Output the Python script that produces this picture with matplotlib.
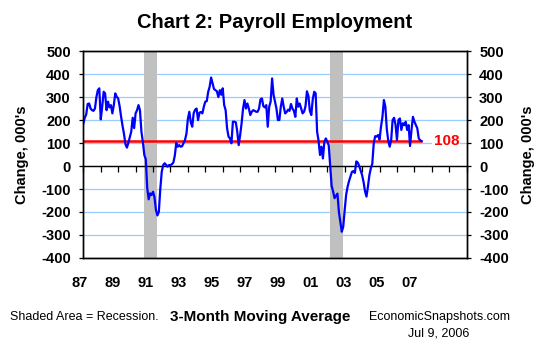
import numpy as np
import matplotlib.pyplot as plt

plt.rcParams['font.family'] = ['Liberation Sans', 'DejaVu Sans']

# Payroll employment, monthly change, 3-month moving average (000's), Jan 1987 - Jun 2006
p1987 = [185, 210, 225, 270, 272, 250, 243, 240, 250, 300, 330, 338]
p1988 = [203, 258, 323, 316, 243, 280, 255, 265, 229, 265, 316, 301]
p1989 = [294, 260, 215, 175, 140, 95, 80, 100, 125, 150, 210, 165]
p1990 = [229, 243, 265, 243, 150, 105, 48, 30, -95, -145, -119, -126]
p1991 = [-112, -135, -191, -215, -200, -100, -25, 4, 12, 5, -3, 4]
p1992 = [4, 8, 15, 45, 100, 84, 91, 84, 86, 99, 113, 140]
p1993 = [205, 236, 190, 171, 230, 245, 250, 200, 232, 235, 229, 258]
p1994 = [280, 282, 323, 345, 385, 360, 335, 330, 325, 300, 330, 310]
p1995 = [338, 265, 243, 164, 128, 120, 99, 193, 193, 190, 150, 91]
p1996 = [135, 186, 250, 287, 250, 272, 250, 222, 236, 243, 240, 236]
p1997 = [236, 250, 290, 294, 260, 255, 265, 171, 258, 280, 381, 310]
p1998 = [280, 250, 200, 200, 258, 294, 258, 229, 235, 245, 240, 270]
p1999 = [250, 240, 214, 294, 258, 272, 250, 229, 236, 260, 325, 305]
p2000 = [240, 222, 290, 323, 316, 149, 110, 48, 84, 33, 106, 120]
p2001 = [106, 90, 0, -87, -110, -140, -130, -120, -200, -242, -286, -264]
p2002 = [-191, -125, -90, -65, -45, -25, -22, -30, 20, 15, 0, -20]
p2003 = [-40, -70, -110, -133, -90, -40, -10, 10, 99, 130, 128, 135]
p2004 = [115, 171, 214, 287, 258, 160, 110, 84, 113, 200, 210, 180]
p2005 = [113, 200, 207, 157, 186, 178, 193, 157, 178, 87, 157, 214]
p2006 = [193, 178, 164, 120, 112, 108]

avg_change = 108
recessions = [("1990-07", "1991-03"), ("2001-03", "2001-11")]
year_labels = ['87', '89', '91', '93', '95', '97', '99', '01', '03', '05', '07']
y_ticks = list(range(-400, 501, 100))

payrolls = np.array(p1987 + p1988 + p1989 + p1990 + p1991 + p1992 + p1993 + p1994
                    + p1995 + p1996 + p1997 + p1998 + p1999 + p2000 + p2001 + p2002
                    + p2003 + p2004 + p2005 + p2006, dtype=float)
months = 1987 + np.arange(len(payrolls)) / 12.0


def to_year(s, end=False):
    y, m = s.split("-")
    return int(y) + (int(m) - (0 if end else 1)) / 12.0


fig = plt.figure(figsize=(5.5, 3.5), dpi=100)
ax = fig.add_axes([0.1515, 0.263, 0.697, 0.591])
ax.set_xlim(1987, 2009)
ax.set_ylim(-400, 500)
ax.set_axisbelow(True)
ax.yaxis.grid(True, color='#99CCFF', lw=0.9)

for start, end in recessions:
    ax.axvspan(to_year(start), to_year(end, end=True), color='#C0C0C0', lw=0, zorder=1)

ax.hlines(avg_change, months[0], months[-1], color='#FF0000', lw=1.8, zorder=2.5)
ax.plot(months, payrolls, color='#0000FF', lw=1.6, zorder=3)
ax.text(2007.83, avg_change, f"{avg_change}", color='#FF0000', fontsize=11,
        fontweight='bold', ha='center', va='center',
        bbox=dict(facecolor='white', edgecolor='none', pad=1), zorder=4)

# zero line with yearly tick marks
zero_axis = ax.secondary_xaxis(0, transform=ax.transData)
zero_axis.set_xticks(np.arange(1987, 2010))
zero_axis.tick_params(direction='out', length=4, width=0.9, labelbottom=False)
zero_axis.spines['bottom'].set_linewidth(1.0)
zero_axis.set_zorder(1.5)

# year labels along the bottom, evenly spaced below the frame
ax.set_xticks([])
for pos, lab in zip(np.linspace(1986.78, 2005.72, len(year_labels)), year_labels):
    ax.text(pos, -0.122, lab, transform=ax.get_xaxis_transform(), ha='center', va='center',
            fontsize=10.5, fontweight='bold', clip_on=False)

ax.set_yticks(y_ticks, [str(v) for v in y_ticks], fontweight='bold', fontsize=10.5)
ax.tick_params(axis='y', direction='out', length=3, width=0.9, pad=6)
ax.set_ylabel("Change, 000's", fontweight='bold', fontsize=10.5)
ax.yaxis.set_label_coords(-0.142, 0.5)

ax2 = ax.twinx()
ax2.set_ylim(-400, 500)
ax2.set_yticks(y_ticks, [str(v) for v in y_ticks], fontweight='bold', fontsize=10.5)
ax2.tick_params(axis='y', direction='out', length=3, width=0.9, pad=6)
ax2.set_ylabel("Change, 000's", fontweight='bold', fontsize=10.5)
ax2.yaxis.set_label_coords(1.142, 0.5)

for a in (ax, ax2):
    for sp in a.spines.values():
        sp.set_color('black')
        sp.set_linewidth(1.0)

fig.text(0.5, 1 - 22 / 350, "Chart 2: Payroll Employment", ha='center', va='center',
         fontsize=14.5, fontweight='bold')
fig.text(10 / 550, 1 - 316.7 / 350, "Shaded Area = Recession.", ha='left', va='center', fontsize=9)
fig.text(260 / 550, 1 - 316.7 / 350, "3-Month Moving Average", ha='center', va='center',
         fontsize=11, fontweight='bold')
fig.text(439 / 550, 1 - 316.7 / 350, "EconomicSnapshots.com", ha='center', va='center', fontsize=9)
fig.text(439 / 550, 1 - 333 / 350, "Jul 9, 2006", ha='center', va='center', fontsize=9)

fig.savefig("out.png", dpi=100)
